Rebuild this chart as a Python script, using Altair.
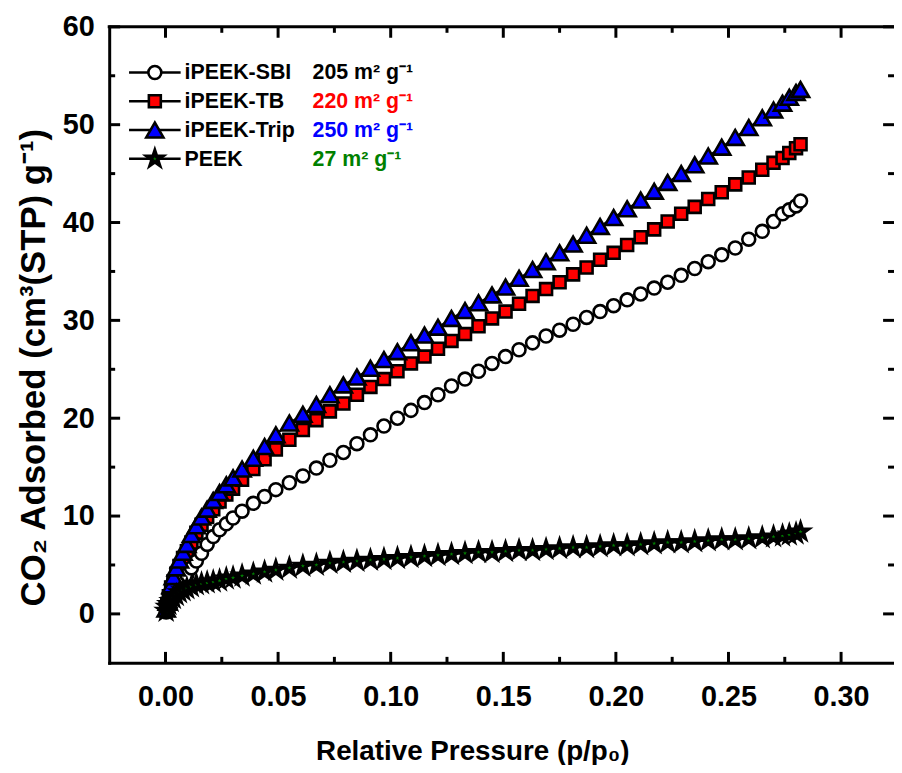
import altair as alt
import pandas as pd

# ---------------- data ----------------
pressure = [0.0003, 0.0008, 0.0015, 0.0025, 0.0035, 0.0048, 0.0062, 0.0078, 0.0095, 0.0115,
            0.0137, 0.016, 0.0185, 0.0212, 0.024, 0.027, 0.030, 0.034, 0.039, 0.044,
            0.049, 0.055, 0.061, 0.067, 0.073, 0.079, 0.085, 0.091, 0.097, 0.103,
            0.109, 0.115, 0.121, 0.127, 0.133, 0.139, 0.145, 0.151, 0.157, 0.163,
            0.169, 0.175, 0.181, 0.187, 0.193, 0.199, 0.205, 0.211, 0.217, 0.223,
            0.229, 0.235, 0.241, 0.247, 0.253, 0.259, 0.265, 0.270, 0.274, 0.277,
            0.280, 0.282]

sbi = [0.2, 0.4, 0.8, 1.3, 1.8, 2.4, 2.9, 3.5, 4.0, 4.7,
       5.4, 6.2, 7.1, 7.9, 8.6, 9.2, 9.8, 10.5, 11.3, 12.0,
       12.7, 13.4, 14.1, 14.9, 15.7, 16.5, 17.4, 18.3, 19.2, 20.0,
       20.8, 21.6, 22.4, 23.3, 24.0, 24.8, 25.6, 26.3, 27.0, 27.7,
       28.4, 29.0, 29.6, 30.3, 30.9, 31.5, 32.1, 32.7, 33.3, 33.9,
       34.6, 35.3, 36.0, 36.7, 37.4, 38.3, 39.1, 40.1, 40.9, 41.3,
       41.7, 42.2]

tb = [0.4, 1.0, 1.8, 2.7, 3.3, 4.1, 4.9, 5.7, 6.4, 7.3,
      8.3, 9.1, 9.9, 10.7, 11.5, 12.2, 12.8, 13.7, 14.8, 15.8,
      16.8, 17.8, 18.8, 19.8, 20.7, 21.5, 22.4, 23.2, 24.0, 24.8,
      25.6, 26.3, 27.1, 27.9, 28.6, 29.4, 30.2, 30.9, 31.7, 32.5,
      33.2, 33.9, 34.7, 35.4, 36.2, 36.9, 37.7, 38.5, 39.3, 40.1,
      40.9, 41.6, 42.4, 43.1, 43.9, 44.6, 45.4, 46.1, 46.6, 47.1,
      47.6, 48.0]

trip = [0.5, 1.2, 2.0, 2.9, 3.8, 4.7, 5.5, 6.3, 7.1, 8.1,
        9.0, 9.9, 10.7, 11.6, 12.4, 13.2, 13.9, 14.8, 15.9, 17.1,
        18.3, 19.5, 20.4, 21.4, 22.4, 23.4, 24.2, 25.1, 26.0, 26.8,
        27.7, 28.5, 29.3, 30.2, 31.0, 31.8, 32.6, 33.4, 34.3, 35.2,
        36.0, 36.9, 37.8, 38.7, 39.6, 40.5, 41.4, 42.3, 43.2, 44.1,
        45.0, 45.9, 46.8, 47.7, 48.7, 49.7, 50.7, 51.5, 52.2, 52.8,
        53.3, 53.6]

peek = [0.3, 0.7, 1.0, 1.3, 1.6, 1.9, 2.2, 2.4, 2.6, 2.8,
        3.0, 3.1, 3.2, 3.3, 3.4, 3.6, 3.7, 3.9, 4.1, 4.3,
        4.5, 4.7, 4.9, 5.0, 5.2, 5.3, 5.4, 5.5, 5.6, 5.7,
        5.8, 5.9, 6.0, 6.1, 6.2, 6.3, 6.3, 6.4, 6.5, 6.5,
        6.6, 6.7, 6.8, 6.8, 6.9, 7.0, 7.0, 7.1, 7.2, 7.3,
        7.3, 7.4, 7.5, 7.6, 7.6, 7.7, 7.8, 7.9, 8.0, 8.1,
        8.2, 8.4]

series_names = ["iPEEK-SBI", "iPEEK-TB", "iPEEK-Trip", "PEEK"]
surface_areas = ["205 m² g⁻¹", "220 m² g⁻¹", "250 m² g⁻¹", "27 m² g⁻¹"]
area_colors = ["#000000", "#ff0000", "#0000ff", "#008000"]

x_major = [0.0, 0.05, 0.10, 0.15, 0.20, 0.25, 0.30]
x_minor = [0.025, 0.075, 0.125, 0.175, 0.225, 0.275]
y_major = [0, 10, 20, 30, 40, 50, 60]
y_minor = [5, 15, 25, 35, 45, 55]

# ---------------- styling ----------------
FONT = "Liberation Sans"
W, H = 791, 641
STAR = ("M0,-1L0.2245,-0.309L0.951,-0.309L0.363,0.118L0.588,0.809L0,0.382"
        "L-0.588,0.809L-0.363,0.118L-0.951,-0.309L-0.2245,-0.309Z")
styles = {
    "iPEEK-SBI": dict(shape="circle", fill="#ffffff", size=170, sw=2.6),
    "iPEEK-TB": dict(shape="square", fill="#ff0000", size=145, sw=2.6),
    "iPEEK-Trip": dict(shape="triangle-up", fill="#0000ff", size=300, sw=2.6),
    "PEEK": dict(shape=STAR, fill="#008000", size=250, sw=3.6),
}

xs = alt.Scale(domain=[-0.025, 0.3235], nice=False, zero=False)
ys = alt.Scale(domain=[-5, 60], nice=False, zero=False)

values = {"iPEEK-SBI": sbi, "iPEEK-TB": tb, "iPEEK-Trip": trip, "PEEK": peek}
df = pd.concat([pd.DataFrame({"p": pressure, "v": values[s], "series": s}) for s in series_names],
               ignore_index=True)

x_axis = alt.Axis(values=x_major, format=".2f", title="Relative Pressure (p/p₀)",
                  ticks=False, tickSize=0, labelPadding=43, labelBaseline="alphabetic",
                  labelFont=FONT, labelFontSize=29, labelFontWeight="bold", labelColor="black",
                  labelFlush=False, labelOverlap=False,
                  domainColor="black", domainWidth=3, domainCap="square", grid=False,
                  titleFont=FONT, titleFontSize=28, titleFontWeight="bold", titleColor="black",
                  titleX=366, titleY=97, titleBaseline="alphabetic", titleAlign="center",
                  titleAngle=0)
y_axis = alt.Axis(values=y_major, format="d", title="CO₂ Adsorbed (cm³(STP) g⁻¹)",
                  ticks=False, tickSize=0, labelPadding=15,
                  labelFont=FONT, labelFontSize=29, labelFontWeight="bold", labelColor="black",
                  labelFlush=False, labelOverlap=False,
                  domainColor="black", domainWidth=3, domainCap="square", grid=False,
                  titleFont=FONT, titleFontSize=35, titleFontWeight="bold", titleColor="black",
                  titleX=-65, titleY=343, titleBaseline="alphabetic", titleAlign="center",
                  titleAngle=270)


def X(field):
    return alt.X(field, scale=xs, axis=x_axis)


def Y(field):
    return alt.Y(field, scale=ys, axis=y_axis)


layers = []
draw_order = ["iPEEK-TB", "iPEEK-SBI", "iPEEK-Trip", "PEEK"]
for s in draw_order:
    st = styles[s]
    base = alt.Chart(df).transform_filter(alt.datum.series == s)
    layers.append(base.mark_line(color="black", strokeWidth=2).encode(x=X("p:Q"), y=Y("v:Q")))
    layers.append(base.mark_point(shape=st["shape"], filled=True, fill=st["fill"], stroke="black",
                                  strokeWidth=st["sw"], size=st["size"], opacity=1)
                  .encode(x=X("p:Q"), y=Y("v:Q")))

# ---------------- frame: top line and inward ticks ----------------
layers.append(alt.Chart(pd.DataFrame({"a": [0]})).mark_rule(color="black", strokeWidth=3, strokeCap="square")
              .encode(x=alt.value(0), x2=alt.value(W), y=alt.value(0)))

for vals, ln in [(x_major, 11), (x_minor, 6)]:
    tdf = pd.DataFrame({"pos": vals})
    layers.append(alt.Chart(tdf).mark_rule(color="black", strokeWidth=3)
                  .encode(x=X("pos:Q"), y=alt.value(H), y2=alt.value(H - ln)))
    layers.append(alt.Chart(tdf).mark_rule(color="black", strokeWidth=3)
                  .encode(x=X("pos:Q"), y=alt.value(0), y2=alt.value(ln)))
for vals, ln in [(y_major, 11), (y_minor, 6)]:
    tdf = pd.DataFrame({"pos": vals})
    layers.append(alt.Chart(tdf).mark_rule(color="black", strokeWidth=3)
                  .encode(y=Y("pos:Q"), x=alt.value(0), x2=alt.value(ln)))
    layers.append(alt.Chart(tdf).mark_rule(color="black", strokeWidth=3)
                  .encode(y=Y("pos:Q"), x=alt.value(W), x2=alt.value(W - ln)))

# ---------------- legend ----------------
legend_rows_y = [46, 75, 104, 133]
for i, s in enumerate(series_names):
    st = styles[s]
    ly = legend_rows_y[i]
    ldf = pd.DataFrame({"name": [s], "area": [surface_areas[i]]})
    lc = alt.Chart(ldf)
    layers.append(lc.mark_rule(color="black", strokeWidth=2.5)
                  .encode(x=alt.value(20), x2=alt.value(72), y=alt.value(ly)))
    layers.append(lc.mark_point(shape=st["shape"], filled=True, fill=st["fill"], stroke="black",
                                strokeWidth=st["sw"], size=st["size"], opacity=1)
                  .encode(x=alt.value(46), y=alt.value(ly)))
    layers.append(lc.mark_text(align="left", baseline="middle", font=FONT, fontSize=21.5,
                               fontWeight="bold", color="black")
                  .encode(x=alt.value(76), y=alt.value(ly + 1), text="name:N"))
    layers.append(lc.mark_text(align="left", baseline="middle", font=FONT, fontSize=21.5,
                               fontWeight="bold", color=area_colors[i])
                  .encode(x=alt.value(205), y=alt.value(ly + 1), text="area:N"))

chart = (alt.layer(*layers)
         .properties(width=W, height=H, autosize=alt.AutoSizeParams(type="none"),
                     padding={"left": 102, "top": 16, "right": 0, "bottom": 100})
         .configure_view(stroke=None)
         .configure(background="white"))

chart.save("out.html", embed_options={"renderer": "svg", "actions": False})
